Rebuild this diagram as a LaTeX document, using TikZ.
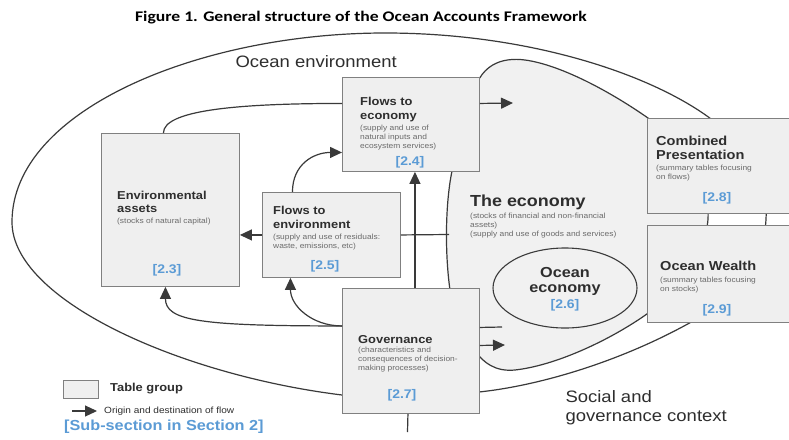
\documentclass[tikz,border=0pt]{standalone}
\usepackage{fontspec}
\setmainfont[FakeStretch=1.12]{Liberation Sans}
\newfontfamily\titlefont[FakeStretch=1.2]{Carlito}
\usetikzlibrary{arrows.meta,shapes.geometric}
\definecolor{boxfill}{HTML}{EFEFEF}
\definecolor{zonefill}{HTML}{F1F1F1}
\definecolor{boxline}{HTML}{808080}
\definecolor{lineink}{HTML}{3A3A3A}
\definecolor{inkgray}{HTML}{2E2E2E}
\definecolor{notegray}{HTML}{6A6A6A}
\definecolor{secblue}{HTML}{5B9BD5}
\begin{document}
\begin{tikzpicture}[x=1pt, y=-1pt,
  tablebox/.style={draw=boxline, fill=boxfill, line width=0.9pt, inner sep=0pt, anchor=north west},
  boxtitle/.style={anchor=west, align=left, inner sep=0pt, text=inkgray, font=\bfseries\fontsize{11.5}{13.5}\selectfont},
  bigtitle/.style={boxtitle, font=\bfseries\fontsize{13}{14}\selectfont},
  boxnote/.style={anchor=west, align=left, inner sep=0pt, text=notegray, font=\fontsize{7.5}{9}\selectfont},
  secnum/.style={inner sep=0pt, text=secblue, font=\bfseries\fontsize{12.5}{14}\selectfont},
  flow/.style={draw=lineink, line width=1.2pt, -{Triangle[length=12pt,width=11pt]}},
  link/.style={draw=lineink, line width=1.2pt},
  rim/.style={draw=lineink, line width=1.2pt}]
\useasboundingbox (0,0) rectangle (789,439);
\clip (0,0) rectangle (789,439);
\fill[white] (0,0) rectangle (789,439);

\node (figtitle) at (361,21) [anchor=base, text=black, font=\titlefont\bfseries\fontsize{14.7}{17}\selectfont] {Figure 1. General structure of the Ocean Accounts Framework};

\draw[rim] (12,222) .. controls (12,110) and (200,33) .. (385,33)
  .. controls (530,33) and (655,75) .. (715,122)
  .. controls (755,150) and (768,185) .. (766,219)
  .. controls (764,262) and (740,292) .. (700,317)
  .. controls (630,358) and (545,385) .. (479,392)
  -- (342,395)
  .. controls (180,375) and (12,300) .. cycle;

\filldraw[rim, fill=zonefill] (472,100) .. controls (478,64) and (502,57) .. (525,60)
  .. controls (562,65) and (615,94) .. (655,123)
  .. controls (690,150) and (710,185) .. (708,219)
  .. controls (706,250) and (680,290) .. (655,308)
  .. controls (620,335) and (560,365) .. (515,370)
  .. controls (495,372) and (483,362) .. (476,352)
  -- (460,330) -- (450,290)
  .. controls (445,255) and (445,205) .. (452,171)
  -- (465,120) -- cycle;

\node (ocenv) at (232,67) [anchor=base west, text=inkgray, font=\fontsize{16.5}{19}\selectfont] {Ocean environment};
\node (social) at (562,407.5) [anchor=west, align=left, text=inkgray, font=\fontsize{16.5}{19}\selectfont] {Social and\\governance context};

\node (envassets) at (101,133) [tablebox, minimum width=138pt, minimum height=153pt] {};
\node (ftenv) at (262,192) [tablebox, minimum width=138pt, minimum height=85pt] {};
\node (ftecon) at (342,77) [tablebox, minimum width=137pt, minimum height=94pt] {};
\node (gov) at (342,288) [tablebox, minimum width=137pt, minimum height=125pt] {};
\node (combined) at (647,118) [tablebox, minimum width=150pt, minimum height=95pt] {};
\node (wealth) at (647,225) [tablebox, minimum width=150pt, minimum height=97pt] {};
\node (oceaneco) at (565,288) [ellipse, draw=lineink, line width=1.1pt, minimum width=144pt, minimum height=80pt] {};

\coordinate (econentry) at (513,103);
\coordinate (econedge) at (449,234.5);
\coordinate (govlink) at (502,327);
\coordinate (govflow) at (505,345);
\coordinate (govstub) at (407.5,432);

\draw[link] ([xshift=-7pt]envassets.north) .. controls +(0,-22) and +(-110,0) .. ([yshift=21pt]ftecon.west);
\draw[flow] ([yshift=21pt]ftecon.east) -- (econentry);
\draw[flow] (ftenv.west) -- (envassets.east |- ftenv.west);
\draw[flow] ([xshift=-39pt]ftenv.north) .. controls +(0,-28) and +(-28,0) .. ([yshift=-28pt]ftecon.west);
\draw[link] (ftenv.east) -- (econedge);
\draw[flow] ([xshift=4pt]gov.north) -- ([xshift=4pt]ftecon.south);
\draw[flow] ([yshift=25pt]gov.west) .. controls +(-30,0) and +(0,28) .. ([xshift=-41pt]ftenv.south);
\draw[flow] ([yshift=25pt]gov.west) .. controls +(-142,0) and +(0,34) .. ([xshift=-5pt]envassets.south);
\draw[link] ([yshift=23.5pt]gov.east) -- (govlink);
\draw[flow] ([yshift=5.5pt]gov.east) -- (govflow);
\draw[link] ([xshift=-3pt]gov.south) -- (govstub);

\node (envtitle) at (117,202) [boxtitle] {Environmental\\assets};
\node (envnote) at (117,222) [boxnote] {(stocks of natural capital)};
\node (envnum) at (167,270) [secnum] {[2.3]};

\node (ftenvtitle) at (273,217.5) [boxtitle] {Flows to\\environment};
\node (ftenvnote) at (273,242.5) [boxnote] {(supply and use of residuals:\\waste, emissions, etc)};
\node (ftenvnum) at (325,266) [secnum] {[2.5]};

\node (ftecontitle) at (360,109.5) [boxtitle] {Flows to\\economy};
\node (fteconnote) at (360,138) [boxnote] {(supply and use of\\natural inputs and\\ecosystem services)};
\node (fteconnum) at (410,162) [secnum] {[2.4]};

\node (govtitle) at (358,339.5) [boxtitle] {Governance};
\node (govnote) at (358,360) [boxnote] {(characteristics and\\consequences of decision-\\making processes)};
\node (govnum) at (402,395) [secnum] {[2.7]};

\node (combinedtitle) at (656,148) [bigtitle] {Combined\\Presentation};
\node (combinednote) at (656,173) [boxnote] {(summary tables focusing\\on flows)};
\node (combinednum) at (717,198) [secnum] {[2.8]};

\node (wealthtitle) at (660,266) [bigtitle] {Ocean Wealth};
\node (wealthnote) at (660,285) [boxnote] {(summary tables focusing\\on stocks)};
\node (wealthnum) at (717,310) [secnum] {[2.9]};

\node (ecotitle) at (470,202) [anchor=west, inner sep=0pt, text=inkgray, font=\bfseries\fontsize{16}{18}\selectfont] {The economy};
\node (econote) at (470,225.5) [boxnote] {(stocks of financial and non-financial\\assets)\\(supply and use of goods and services)};

\node (oceanecotitle) at (565,281.5) [align=center, inner sep=0pt, text=inkgray, font=\bfseries\fontsize{14.5}{15.5}\selectfont] {Ocean\\economy};
\node (oceaneconum) at (565,305) [secnum] {[2.6]};

\node (legbox) at (63,380) [tablebox, minimum width=35pt, minimum height=18pt] {};
\node (legboxlabel) at (110,388.5) [anchor=west, inner sep=0pt, text=inkgray, font=\bfseries\fontsize{11.5}{13}\selectfont] {Table group};
\coordinate (legtail) at (72,411);
\coordinate (leghead) at (97,411);
\draw[flow] (legtail) -- (leghead);
\node (legflowlabel) at (104,411) [anchor=west, inner sep=0pt, text=inkgray, font=\fontsize{9}{10}\selectfont] {Origin and destination of flow};
\node (legsection) at (64,427) [secnum, anchor=west, font=\bfseries\fontsize{14.5}{16}\selectfont] {[Sub-section in Section 2]};
\end{tikzpicture}
\end{document}
